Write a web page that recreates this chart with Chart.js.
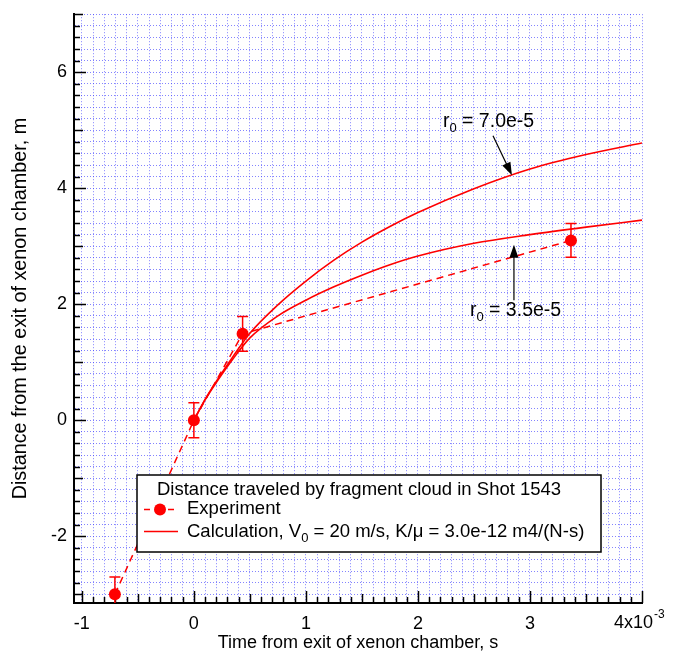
<!DOCTYPE html>
<html><head><meta charset="utf-8">
<script src="https://cdn.jsdelivr.net/npm/chart.js@4/dist/chart.umd.min.js"></script>
<style>html,body{margin:0;padding:0;background:#fff}</style>
</head><body>
<canvas id="c" width="685" height="656"></canvas>
<script>
// ---- data (time in units of 1e-3 s, distance in m) ----
const expTime = [-0.705, 0, 0.435, 3.366];
const expDist = [-3.0, 0, 1.49, 3.1];
const expErr  = [0.3, 0.3, 0.3, 0.29];
const calcTime = [0, 0.1, 0.2, 0.35, 0.5, 0.75, 1.0, 1.25, 1.5, 1.75, 2.0, 2.5, 3.0, 3.5, 4.0];
const calcR70  = [0, 0.36, 0.67, 1.1, 1.5, 1.99, 2.4, 2.76, 3.07, 3.34, 3.58, 3.99, 4.33, 4.58, 4.78];
const calcR35  = [0, 0.35, 0.65, 1.06, 1.42, 1.8, 2.07, 2.3, 2.5, 2.68, 2.83, 3.05, 3.2, 3.33, 3.45];
const xTickLabels = ['-1', '0', '1', '2', '3', '4x10'];
const xTickValues = [-1, 0, 1, 2, 3, 4];
const yTickLabels = ['-2', '0', '2', '4', '6'];
const yTickValues = [-2, 0, 2, 4, 6];
const legendTitle = 'Distance traveled by fragment cloud in Shot 1543';
const legendExp = 'Experiment';
const legendCalcA = 'Calculation, V';
const legendCalcB = ' = 20 m/s, K/\u03BC = 3.0e-12 m4/(N-s)';
const annoText = [' = 7.0e-5', ' = 3.5e-5'];

const FONT = "'Liberation Sans', Arial, Helvetica, sans-serif";
const RED = '#ff0000';

const pts = (xs, ys) => xs.map((x, i) => ({x, y: ys[i]}));

function drawArrow(ctx, x1, y1, x2, y2) {
  const ang = Math.atan2(y2 - y1, x2 - x1);
  const L = 13, W = 4.5;
  ctx.beginPath(); ctx.moveTo(x1, y1);
  ctx.lineTo(x2 - Math.cos(ang) * L * 0.8, y2 - Math.sin(ang) * L * 0.8); ctx.stroke();
  ctx.beginPath();
  ctx.moveTo(x2, y2);
  ctx.lineTo(x2 - L * Math.cos(ang) + W * Math.sin(ang), y2 - L * Math.sin(ang) - W * Math.cos(ang));
  ctx.lineTo(x2 - L * Math.cos(ang) - W * Math.sin(ang), y2 - L * Math.sin(ang) + W * Math.cos(ang));
  ctx.closePath(); ctx.fill();
}

const decor = {
  id: 'decor',
  beforeDatasetsDraw(chart) {
    const {ctx, chartArea: a, scales: {x, y}} = chart;
    ctx.save();
    ctx.strokeStyle = '#000'; ctx.lineWidth = 1.5;
    x.ticks.forEach(t => {
      const k = Math.round(t.value * 10);
      const len = k % 10 === 0 ? 12 : (k % 5 === 0 ? 9 : 6);
      const px = Math.round(x.getPixelForValue(t.value)) + 0.5;
      ctx.beginPath(); ctx.moveTo(px, a.bottom); ctx.lineTo(px, a.bottom - len); ctx.stroke();
    });
    y.ticks.forEach(t => {
      const k = Math.round(t.value * 5);
      const len = k % 10 === 0 ? 12 : (k % 5 === 0 ? 9 : 6);
      const py = Math.round(y.getPixelForValue(t.value)) + 0.5;
      ctx.beginPath(); ctx.moveTo(a.left, py); ctx.lineTo(a.left + len, py); ctx.stroke();
    });
    ctx.restore();
  },
  afterDatasetsDraw(chart) {
    const {ctx, chartArea: a, scales: {x, y}} = chart;
    ctx.save();
    ctx.beginPath(); ctx.rect(a.left, a.top, a.right - a.left, a.bottom - a.top); ctx.clip();
    ctx.strokeStyle = RED; ctx.lineWidth = 1.5;
    expTime.forEach((t, i) => {
      const px = x.getPixelForValue(t);
      const yt = y.getPixelForValue(expDist[i] + expErr[i]);
      const yb = y.getPixelForValue(expDist[i] - expErr[i]);
      ctx.beginPath();
      ctx.moveTo(px, yt); ctx.lineTo(px, yb);
      ctx.moveTo(px - 5.5, yt); ctx.lineTo(px + 5.5, yt);
      ctx.moveTo(px - 5.5, yb); ctx.lineTo(px + 5.5, yb);
      ctx.stroke();
    });
    ctx.restore();
  },
  afterDraw(chart) {
    const {ctx, chartArea: a, scales: {x, y}} = chart;
    ctx.save();
    // last x tick label with exponent
    const p4 = x.getPixelForValue(xTickValues[5]);
    ctx.fillStyle = '#000';
    ctx.font = '18px ' + FONT; ctx.textBaseline = 'middle'; ctx.textAlign = 'left';
    const w4 = ctx.measureText(xTickLabels[5]).width;
    ctx.fillText(xTickLabels[5], p4 - 28, 623);
    ctx.font = '12px ' + FONT; ctx.textBaseline = 'alphabetic';
    ctx.fillText('-3', p4 - 28 + w4 + 1, 618);

    // annotations
    const annos = [
      {tx: 2.223, ty: 5.06, ax1: 2.67, ay1: 4.906, ax2: 2.839, ay2: 4.222, text: annoText[0]},
      {tx: 2.464, ty: 1.795, ax1: 2.857, ay1: 2.068, ax2: 2.857, ay2: 3.026, text: annoText[1]}
    ];
    ctx.strokeStyle = '#000'; ctx.fillStyle = '#000'; ctx.lineWidth = 1.2;
    annos.forEach(an => {
      const lx = x.getPixelForValue(an.tx), ly = y.getPixelForValue(an.ty);
      ctx.font = '19.5px ' + FONT; ctx.textBaseline = 'alphabetic'; ctx.textAlign = 'left';
      ctx.fillText('r', lx, ly);
      const wr = ctx.measureText('r').width;
      ctx.font = '13px ' + FONT;
      ctx.fillText('0', lx + wr, ly + 5);
      const w0 = ctx.measureText('0').width;
      ctx.font = '19.5px ' + FONT;
      ctx.fillText(an.text, lx + wr + w0, ly);
      drawArrow(ctx, x.getPixelForValue(an.ax1), y.getPixelForValue(an.ay1),
                     x.getPixelForValue(an.ax2), y.getPixelForValue(an.ay2));
    });

    // legend box
    const L = 137, T = 475, W = 464, H = 77;
    ctx.fillStyle = '#fff'; ctx.fillRect(L, T, W, H);
    ctx.strokeStyle = '#000'; ctx.lineWidth = 1.5; ctx.strokeRect(L, T, W, H);
    ctx.fillStyle = '#000'; ctx.font = '18.5px ' + FONT; ctx.textBaseline = 'alphabetic';
    ctx.fillText(legendTitle, 157, 495);
    ctx.fillText(legendExp, 187, 514);
    ctx.fillText(legendCalcA, 187, 537);
    const wa = ctx.measureText(legendCalcA).width;
    ctx.font = '13px ' + FONT; ctx.fillText('0', 187 + wa, 542);
    const ws = ctx.measureText('0').width;
    ctx.font = '18.5px ' + FONT; ctx.fillText(legendCalcB, 187 + wa + ws, 537);
    // symbols
    ctx.strokeStyle = RED; ctx.fillStyle = RED; ctx.lineWidth = 1.5;
    ctx.beginPath();
    ctx.moveTo(144, 509.5); ctx.lineTo(150, 509.5);
    ctx.moveTo(168, 509.5); ctx.lineTo(174, 509.5);
    ctx.moveTo(144, 531.5); ctx.lineTo(178, 531.5);
    ctx.stroke();
    ctx.beginPath(); ctx.arc(160, 509.5, 6, 0, Math.PI * 2); ctx.fill();
    ctx.restore();
  }
};

const gridColor = 'rgba(50,50,255,0.6)';

new Chart(document.getElementById('c'), {
  type: 'line',
  data: {
    datasets: [
      { label: legendExp, data: pts(expTime, expDist), borderColor: RED, backgroundColor: RED,
        borderWidth: 1.5, borderDash: [7, 5], pointRadius: 6, pointHoverRadius: 6,
        pointBorderWidth: 0, tension: 0 },
      { label: 'r0 = 7.0e-5', data: pts(calcTime, calcR70), borderColor: RED, borderWidth: 1.6,
        pointRadius: 0, cubicInterpolationMode: 'monotone' },
      { label: 'r0 = 3.5e-5', data: pts(calcTime, calcR35), borderColor: RED, borderWidth: 1.6,
        pointRadius: 0, cubicInterpolationMode: 'monotone' }
    ]
  },
  options: {
    responsive: false, animation: false, devicePixelRatio: 1,
    layout: { padding: { top: 9, right: 43, left: 0, bottom: 0 } },
    plugins: { legend: { display: false }, tooltip: { enabled: false } },
    scales: {
      x: {
        type: 'linear', min: -1.07, max: 4.0,
        afterBuildTicks: s => { const t = []; for (let i = -10; i <= 40; i++) t.push({value: i / 10}); s.ticks = t; },
        afterFit: s => { s.height = 53; },
        ticks: {
          autoSkip: false, maxRotation: 0, minRotation: 0, padding: 10, color: '#000',
          font: { family: FONT, size: 18 },
          callback: v => { const i = xTickValues.findIndex(q => Math.abs(q - v) < 1e-6); return (i >= 0 && i < 5) ? xTickLabels[i] : ''; }
        },
        grid: { color: gridColor, lineWidth: 1, drawTicks: false },
        border: { display: true, color: '#000', width: 2, dash: [1, 2] },
        title: { display: true, text: 'Time from exit of xenon chamber, s', color: '#000',
                 font: { family: FONT, size: 18 }, padding: { top: 0, bottom: 2 } }
      },
      y: {
        type: 'linear', min: -3.15, max: 7.0,
        afterBuildTicks: s => { const t = []; for (let i = -15; i <= 35; i++) t.push({value: i / 5}); s.ticks = t; },
        afterFit: s => { s.width = 74; },
        ticks: {
          autoSkip: false, padding: 7, color: '#000',
          font: { family: FONT, size: 18, lineHeight: 0.8 },
          callback: v => { const i = yTickValues.findIndex(q => Math.abs(q - v) < 1e-6); return i >= 0 ? yTickLabels[i] : ''; }
        },
        grid: { color: gridColor, lineWidth: 1, drawTicks: false },
        border: { display: true, color: '#000', width: 2, dash: [1, 2] },
        title: { display: true, text: 'Distance from the exit of xenon chamber, m', color: '#000',
                 font: { family: FONT, size: 19.8 }, padding: { top: 9, bottom: 0 } }
      }
    }
  },
  plugins: [decor]
});
</script>
</body></html>
